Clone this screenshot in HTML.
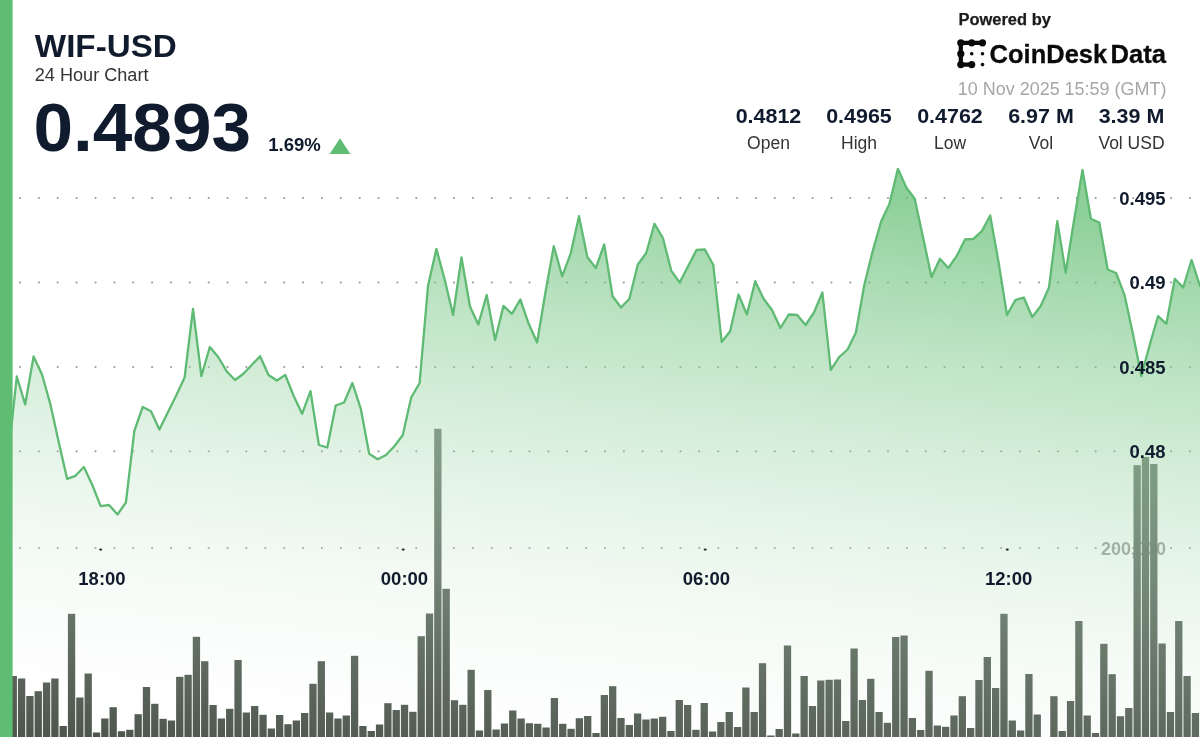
<!DOCTYPE html>
<html lang="en"><head><meta charset="utf-8"><title>WIF-USD 24 Hour Chart</title>
<style>
html,body{margin:0;padding:0;background:#fff;}
body{width:1200px;height:737px;overflow:hidden;}
svg{display:block;font-family:"Liberation Sans",sans-serif;}
.b{font-weight:700;}
</style></head><body>
<svg width="1200" height="737" viewBox="0 0 1200 737">
<defs>
<linearGradient id="ag" gradientUnits="userSpaceOnUse" x1="600" y1="165" x2="536.1" y2="803.6"><stop offset="0.0000" stop-color="#5cbb6d" stop-opacity="0.7000"/><stop offset="0.0833" stop-color="#6ac179" stop-opacity="0.6417"/><stop offset="0.1667" stop-color="#77c685" stop-opacity="0.5833"/><stop offset="0.2500" stop-color="#85cc92" stop-opacity="0.5250"/><stop offset="0.3333" stop-color="#92d29e" stop-opacity="0.4667"/><stop offset="0.4167" stop-color="#a0d7aa" stop-opacity="0.4083"/><stop offset="0.5000" stop-color="#aeddb6" stop-opacity="0.3500"/><stop offset="0.5833" stop-color="#bbe3c2" stop-opacity="0.2917"/><stop offset="0.6667" stop-color="#c9e8ce" stop-opacity="0.2333"/><stop offset="0.7500" stop-color="#d6eeda" stop-opacity="0.1750"/><stop offset="0.8333" stop-color="#e4f4e7" stop-opacity="0.1167"/><stop offset="0.9167" stop-color="#f1f9f3" stop-opacity="0.0583"/><stop offset="1.0000" stop-color="#ffffff" stop-opacity="0.0000"/></linearGradient><linearGradient id="bg" gradientUnits="userSpaceOnUse" x1="0" y1="430" x2="0" y2="737"><stop offset="0" stop-color="#6c776e"/><stop offset="0.717" stop-color="#4e584e"/><stop offset="1" stop-color="#495349"/></linearGradient>
</defs>
<rect width="1200" height="737" fill="#fff"/>
<g fill="#9b9b9b"><circle cx="20.0" cy="198" r="1.1"/><circle cx="38.9" cy="198" r="1.1"/><circle cx="57.7" cy="198" r="1.1"/><circle cx="76.6" cy="198" r="1.1"/><circle cx="95.5" cy="198" r="1.1"/><circle cx="114.4" cy="198" r="1.1"/><circle cx="133.2" cy="198" r="1.1"/><circle cx="152.1" cy="198" r="1.1"/><circle cx="171.0" cy="198" r="1.1"/><circle cx="189.8" cy="198" r="1.1"/><circle cx="208.7" cy="198" r="1.1"/><circle cx="227.6" cy="198" r="1.1"/><circle cx="246.4" cy="198" r="1.1"/><circle cx="265.3" cy="198" r="1.1"/><circle cx="284.2" cy="198" r="1.1"/><circle cx="303.1" cy="198" r="1.1"/><circle cx="321.9" cy="198" r="1.1"/><circle cx="340.8" cy="198" r="1.1"/><circle cx="359.7" cy="198" r="1.1"/><circle cx="378.5" cy="198" r="1.1"/><circle cx="397.4" cy="198" r="1.1"/><circle cx="416.3" cy="198" r="1.1"/><circle cx="435.1" cy="198" r="1.1"/><circle cx="454.0" cy="198" r="1.1"/><circle cx="472.9" cy="198" r="1.1"/><circle cx="491.8" cy="198" r="1.1"/><circle cx="510.6" cy="198" r="1.1"/><circle cx="529.5" cy="198" r="1.1"/><circle cx="548.4" cy="198" r="1.1"/><circle cx="567.2" cy="198" r="1.1"/><circle cx="586.1" cy="198" r="1.1"/><circle cx="605.0" cy="198" r="1.1"/><circle cx="623.8" cy="198" r="1.1"/><circle cx="642.7" cy="198" r="1.1"/><circle cx="661.6" cy="198" r="1.1"/><circle cx="680.5" cy="198" r="1.1"/><circle cx="699.3" cy="198" r="1.1"/><circle cx="718.2" cy="198" r="1.1"/><circle cx="737.1" cy="198" r="1.1"/><circle cx="755.9" cy="198" r="1.1"/><circle cx="774.8" cy="198" r="1.1"/><circle cx="793.7" cy="198" r="1.1"/><circle cx="812.5" cy="198" r="1.1"/><circle cx="831.4" cy="198" r="1.1"/><circle cx="850.3" cy="198" r="1.1"/><circle cx="869.2" cy="198" r="1.1"/><circle cx="888.0" cy="198" r="1.1"/><circle cx="906.9" cy="198" r="1.1"/><circle cx="925.8" cy="198" r="1.1"/><circle cx="944.6" cy="198" r="1.1"/><circle cx="963.5" cy="198" r="1.1"/><circle cx="982.4" cy="198" r="1.1"/><circle cx="1001.2" cy="198" r="1.1"/><circle cx="1020.1" cy="198" r="1.1"/><circle cx="1039.0" cy="198" r="1.1"/><circle cx="1057.9" cy="198" r="1.1"/><circle cx="1076.7" cy="198" r="1.1"/><circle cx="1095.6" cy="198" r="1.1"/><circle cx="1114.5" cy="198" r="1.1"/><circle cx="1133.3" cy="198" r="1.1"/><circle cx="1152.2" cy="198" r="1.1"/><circle cx="1171.1" cy="198" r="1.1"/><circle cx="1189.9" cy="198" r="1.1"/><circle cx="20.0" cy="282.5" r="1.1"/><circle cx="38.9" cy="282.5" r="1.1"/><circle cx="57.7" cy="282.5" r="1.1"/><circle cx="76.6" cy="282.5" r="1.1"/><circle cx="95.5" cy="282.5" r="1.1"/><circle cx="114.4" cy="282.5" r="1.1"/><circle cx="133.2" cy="282.5" r="1.1"/><circle cx="152.1" cy="282.5" r="1.1"/><circle cx="171.0" cy="282.5" r="1.1"/><circle cx="189.8" cy="282.5" r="1.1"/><circle cx="208.7" cy="282.5" r="1.1"/><circle cx="227.6" cy="282.5" r="1.1"/><circle cx="246.4" cy="282.5" r="1.1"/><circle cx="265.3" cy="282.5" r="1.1"/><circle cx="284.2" cy="282.5" r="1.1"/><circle cx="303.1" cy="282.5" r="1.1"/><circle cx="321.9" cy="282.5" r="1.1"/><circle cx="340.8" cy="282.5" r="1.1"/><circle cx="359.7" cy="282.5" r="1.1"/><circle cx="378.5" cy="282.5" r="1.1"/><circle cx="397.4" cy="282.5" r="1.1"/><circle cx="416.3" cy="282.5" r="1.1"/><circle cx="435.1" cy="282.5" r="1.1"/><circle cx="454.0" cy="282.5" r="1.1"/><circle cx="472.9" cy="282.5" r="1.1"/><circle cx="491.8" cy="282.5" r="1.1"/><circle cx="510.6" cy="282.5" r="1.1"/><circle cx="529.5" cy="282.5" r="1.1"/><circle cx="548.4" cy="282.5" r="1.1"/><circle cx="567.2" cy="282.5" r="1.1"/><circle cx="586.1" cy="282.5" r="1.1"/><circle cx="605.0" cy="282.5" r="1.1"/><circle cx="623.8" cy="282.5" r="1.1"/><circle cx="642.7" cy="282.5" r="1.1"/><circle cx="661.6" cy="282.5" r="1.1"/><circle cx="680.5" cy="282.5" r="1.1"/><circle cx="699.3" cy="282.5" r="1.1"/><circle cx="718.2" cy="282.5" r="1.1"/><circle cx="737.1" cy="282.5" r="1.1"/><circle cx="755.9" cy="282.5" r="1.1"/><circle cx="774.8" cy="282.5" r="1.1"/><circle cx="793.7" cy="282.5" r="1.1"/><circle cx="812.5" cy="282.5" r="1.1"/><circle cx="831.4" cy="282.5" r="1.1"/><circle cx="850.3" cy="282.5" r="1.1"/><circle cx="869.2" cy="282.5" r="1.1"/><circle cx="888.0" cy="282.5" r="1.1"/><circle cx="906.9" cy="282.5" r="1.1"/><circle cx="925.8" cy="282.5" r="1.1"/><circle cx="944.6" cy="282.5" r="1.1"/><circle cx="963.5" cy="282.5" r="1.1"/><circle cx="982.4" cy="282.5" r="1.1"/><circle cx="1001.2" cy="282.5" r="1.1"/><circle cx="1020.1" cy="282.5" r="1.1"/><circle cx="1039.0" cy="282.5" r="1.1"/><circle cx="1057.9" cy="282.5" r="1.1"/><circle cx="1076.7" cy="282.5" r="1.1"/><circle cx="1095.6" cy="282.5" r="1.1"/><circle cx="1114.5" cy="282.5" r="1.1"/><circle cx="1133.3" cy="282.5" r="1.1"/><circle cx="1152.2" cy="282.5" r="1.1"/><circle cx="1171.1" cy="282.5" r="1.1"/><circle cx="1189.9" cy="282.5" r="1.1"/><circle cx="20.0" cy="367" r="1.1"/><circle cx="38.9" cy="367" r="1.1"/><circle cx="57.7" cy="367" r="1.1"/><circle cx="76.6" cy="367" r="1.1"/><circle cx="95.5" cy="367" r="1.1"/><circle cx="114.4" cy="367" r="1.1"/><circle cx="133.2" cy="367" r="1.1"/><circle cx="152.1" cy="367" r="1.1"/><circle cx="171.0" cy="367" r="1.1"/><circle cx="189.8" cy="367" r="1.1"/><circle cx="208.7" cy="367" r="1.1"/><circle cx="227.6" cy="367" r="1.1"/><circle cx="246.4" cy="367" r="1.1"/><circle cx="265.3" cy="367" r="1.1"/><circle cx="284.2" cy="367" r="1.1"/><circle cx="303.1" cy="367" r="1.1"/><circle cx="321.9" cy="367" r="1.1"/><circle cx="340.8" cy="367" r="1.1"/><circle cx="359.7" cy="367" r="1.1"/><circle cx="378.5" cy="367" r="1.1"/><circle cx="397.4" cy="367" r="1.1"/><circle cx="416.3" cy="367" r="1.1"/><circle cx="435.1" cy="367" r="1.1"/><circle cx="454.0" cy="367" r="1.1"/><circle cx="472.9" cy="367" r="1.1"/><circle cx="491.8" cy="367" r="1.1"/><circle cx="510.6" cy="367" r="1.1"/><circle cx="529.5" cy="367" r="1.1"/><circle cx="548.4" cy="367" r="1.1"/><circle cx="567.2" cy="367" r="1.1"/><circle cx="586.1" cy="367" r="1.1"/><circle cx="605.0" cy="367" r="1.1"/><circle cx="623.8" cy="367" r="1.1"/><circle cx="642.7" cy="367" r="1.1"/><circle cx="661.6" cy="367" r="1.1"/><circle cx="680.5" cy="367" r="1.1"/><circle cx="699.3" cy="367" r="1.1"/><circle cx="718.2" cy="367" r="1.1"/><circle cx="737.1" cy="367" r="1.1"/><circle cx="755.9" cy="367" r="1.1"/><circle cx="774.8" cy="367" r="1.1"/><circle cx="793.7" cy="367" r="1.1"/><circle cx="812.5" cy="367" r="1.1"/><circle cx="831.4" cy="367" r="1.1"/><circle cx="850.3" cy="367" r="1.1"/><circle cx="869.2" cy="367" r="1.1"/><circle cx="888.0" cy="367" r="1.1"/><circle cx="906.9" cy="367" r="1.1"/><circle cx="925.8" cy="367" r="1.1"/><circle cx="944.6" cy="367" r="1.1"/><circle cx="963.5" cy="367" r="1.1"/><circle cx="982.4" cy="367" r="1.1"/><circle cx="1001.2" cy="367" r="1.1"/><circle cx="1020.1" cy="367" r="1.1"/><circle cx="1039.0" cy="367" r="1.1"/><circle cx="1057.9" cy="367" r="1.1"/><circle cx="1076.7" cy="367" r="1.1"/><circle cx="1095.6" cy="367" r="1.1"/><circle cx="1114.5" cy="367" r="1.1"/><circle cx="1133.3" cy="367" r="1.1"/><circle cx="1152.2" cy="367" r="1.1"/><circle cx="1171.1" cy="367" r="1.1"/><circle cx="1189.9" cy="367" r="1.1"/><circle cx="20.0" cy="451.3" r="1.1"/><circle cx="38.9" cy="451.3" r="1.1"/><circle cx="57.7" cy="451.3" r="1.1"/><circle cx="76.6" cy="451.3" r="1.1"/><circle cx="95.5" cy="451.3" r="1.1"/><circle cx="114.4" cy="451.3" r="1.1"/><circle cx="133.2" cy="451.3" r="1.1"/><circle cx="152.1" cy="451.3" r="1.1"/><circle cx="171.0" cy="451.3" r="1.1"/><circle cx="189.8" cy="451.3" r="1.1"/><circle cx="208.7" cy="451.3" r="1.1"/><circle cx="227.6" cy="451.3" r="1.1"/><circle cx="246.4" cy="451.3" r="1.1"/><circle cx="265.3" cy="451.3" r="1.1"/><circle cx="284.2" cy="451.3" r="1.1"/><circle cx="303.1" cy="451.3" r="1.1"/><circle cx="321.9" cy="451.3" r="1.1"/><circle cx="340.8" cy="451.3" r="1.1"/><circle cx="359.7" cy="451.3" r="1.1"/><circle cx="378.5" cy="451.3" r="1.1"/><circle cx="397.4" cy="451.3" r="1.1"/><circle cx="416.3" cy="451.3" r="1.1"/><circle cx="435.1" cy="451.3" r="1.1"/><circle cx="454.0" cy="451.3" r="1.1"/><circle cx="472.9" cy="451.3" r="1.1"/><circle cx="491.8" cy="451.3" r="1.1"/><circle cx="510.6" cy="451.3" r="1.1"/><circle cx="529.5" cy="451.3" r="1.1"/><circle cx="548.4" cy="451.3" r="1.1"/><circle cx="567.2" cy="451.3" r="1.1"/><circle cx="586.1" cy="451.3" r="1.1"/><circle cx="605.0" cy="451.3" r="1.1"/><circle cx="623.8" cy="451.3" r="1.1"/><circle cx="642.7" cy="451.3" r="1.1"/><circle cx="661.6" cy="451.3" r="1.1"/><circle cx="680.5" cy="451.3" r="1.1"/><circle cx="699.3" cy="451.3" r="1.1"/><circle cx="718.2" cy="451.3" r="1.1"/><circle cx="737.1" cy="451.3" r="1.1"/><circle cx="755.9" cy="451.3" r="1.1"/><circle cx="774.8" cy="451.3" r="1.1"/><circle cx="793.7" cy="451.3" r="1.1"/><circle cx="812.5" cy="451.3" r="1.1"/><circle cx="831.4" cy="451.3" r="1.1"/><circle cx="850.3" cy="451.3" r="1.1"/><circle cx="869.2" cy="451.3" r="1.1"/><circle cx="888.0" cy="451.3" r="1.1"/><circle cx="906.9" cy="451.3" r="1.1"/><circle cx="925.8" cy="451.3" r="1.1"/><circle cx="944.6" cy="451.3" r="1.1"/><circle cx="963.5" cy="451.3" r="1.1"/><circle cx="982.4" cy="451.3" r="1.1"/><circle cx="1001.2" cy="451.3" r="1.1"/><circle cx="1020.1" cy="451.3" r="1.1"/><circle cx="1039.0" cy="451.3" r="1.1"/><circle cx="1057.9" cy="451.3" r="1.1"/><circle cx="1076.7" cy="451.3" r="1.1"/><circle cx="1095.6" cy="451.3" r="1.1"/><circle cx="1114.5" cy="451.3" r="1.1"/><circle cx="1133.3" cy="451.3" r="1.1"/><circle cx="1152.2" cy="451.3" r="1.1"/><circle cx="1171.1" cy="451.3" r="1.1"/><circle cx="1189.9" cy="451.3" r="1.1"/><circle cx="20.0" cy="548" r="1.1"/><circle cx="38.9" cy="548" r="1.1"/><circle cx="57.7" cy="548" r="1.1"/><circle cx="76.6" cy="548" r="1.1"/><circle cx="95.5" cy="548" r="1.1"/><circle cx="114.4" cy="548" r="1.1"/><circle cx="133.2" cy="548" r="1.1"/><circle cx="152.1" cy="548" r="1.1"/><circle cx="171.0" cy="548" r="1.1"/><circle cx="189.8" cy="548" r="1.1"/><circle cx="208.7" cy="548" r="1.1"/><circle cx="227.6" cy="548" r="1.1"/><circle cx="246.4" cy="548" r="1.1"/><circle cx="265.3" cy="548" r="1.1"/><circle cx="284.2" cy="548" r="1.1"/><circle cx="303.1" cy="548" r="1.1"/><circle cx="321.9" cy="548" r="1.1"/><circle cx="340.8" cy="548" r="1.1"/><circle cx="359.7" cy="548" r="1.1"/><circle cx="378.5" cy="548" r="1.1"/><circle cx="397.4" cy="548" r="1.1"/><circle cx="416.3" cy="548" r="1.1"/><circle cx="435.1" cy="548" r="1.1"/><circle cx="454.0" cy="548" r="1.1"/><circle cx="472.9" cy="548" r="1.1"/><circle cx="491.8" cy="548" r="1.1"/><circle cx="510.6" cy="548" r="1.1"/><circle cx="529.5" cy="548" r="1.1"/><circle cx="548.4" cy="548" r="1.1"/><circle cx="567.2" cy="548" r="1.1"/><circle cx="586.1" cy="548" r="1.1"/><circle cx="605.0" cy="548" r="1.1"/><circle cx="623.8" cy="548" r="1.1"/><circle cx="642.7" cy="548" r="1.1"/><circle cx="661.6" cy="548" r="1.1"/><circle cx="680.5" cy="548" r="1.1"/><circle cx="699.3" cy="548" r="1.1"/><circle cx="718.2" cy="548" r="1.1"/><circle cx="737.1" cy="548" r="1.1"/><circle cx="755.9" cy="548" r="1.1"/><circle cx="774.8" cy="548" r="1.1"/><circle cx="793.7" cy="548" r="1.1"/><circle cx="812.5" cy="548" r="1.1"/><circle cx="831.4" cy="548" r="1.1"/><circle cx="850.3" cy="548" r="1.1"/><circle cx="869.2" cy="548" r="1.1"/><circle cx="888.0" cy="548" r="1.1"/><circle cx="906.9" cy="548" r="1.1"/><circle cx="925.8" cy="548" r="1.1"/><circle cx="944.6" cy="548" r="1.1"/><circle cx="963.5" cy="548" r="1.1"/><circle cx="982.4" cy="548" r="1.1"/><circle cx="1001.2" cy="548" r="1.1"/><circle cx="1020.1" cy="548" r="1.1"/><circle cx="1039.0" cy="548" r="1.1"/><circle cx="1057.9" cy="548" r="1.1"/><circle cx="1076.7" cy="548" r="1.1"/><circle cx="1095.6" cy="548" r="1.1"/><circle cx="1114.5" cy="548" r="1.1"/><circle cx="1133.3" cy="548" r="1.1"/><circle cx="1152.2" cy="548" r="1.1"/><circle cx="1171.1" cy="548" r="1.1"/><circle cx="1189.9" cy="548" r="1.1"/></g>
<text class="b" x="1166" y="554.6" font-size="18" text-anchor="end" fill="#9a9a9a">200,000</text>
<g fill="url(#bg)"><rect x="1.30" y="676.0" width="7.3" height="61.0"/><rect x="9.62" y="676.0" width="7.3" height="61.0"/><rect x="17.95" y="678.5" width="7.3" height="58.5"/><rect x="26.27" y="696.0" width="7.3" height="41.0"/><rect x="34.60" y="691.2" width="7.3" height="45.8"/><rect x="42.93" y="682.5" width="7.3" height="54.5"/><rect x="51.25" y="678.5" width="7.3" height="58.5"/><rect x="59.57" y="726.0" width="7.3" height="11.0"/><rect x="67.90" y="613.8" width="7.3" height="123.2"/><rect x="76.22" y="697.5" width="7.3" height="39.5"/><rect x="84.55" y="673.5" width="7.3" height="63.5"/><rect x="92.87" y="732.5" width="7.3" height="4.5"/><rect x="101.20" y="718.5" width="7.3" height="18.5"/><rect x="109.52" y="707.2" width="7.3" height="29.8"/><rect x="117.85" y="731.2" width="7.3" height="5.8"/><rect x="126.17" y="729.8" width="7.3" height="7.2"/><rect x="134.50" y="714.2" width="7.3" height="22.8"/><rect x="142.82" y="687.0" width="7.3" height="50.0"/><rect x="151.15" y="703.8" width="7.3" height="33.2"/><rect x="159.47" y="718.8" width="7.3" height="18.2"/><rect x="167.80" y="720.5" width="7.3" height="16.5"/><rect x="176.12" y="676.8" width="7.3" height="60.2"/><rect x="184.45" y="674.8" width="7.3" height="62.2"/><rect x="192.77" y="636.8" width="7.3" height="100.2"/><rect x="201.10" y="661.2" width="7.3" height="75.8"/><rect x="209.42" y="705.0" width="7.3" height="32.0"/><rect x="217.75" y="718.5" width="7.3" height="18.5"/><rect x="226.07" y="708.8" width="7.3" height="28.2"/><rect x="234.40" y="660.0" width="7.3" height="77.0"/><rect x="242.72" y="712.5" width="7.3" height="24.5"/><rect x="251.05" y="706.0" width="7.3" height="31.0"/><rect x="259.38" y="714.8" width="7.3" height="22.2"/><rect x="267.70" y="728.5" width="7.3" height="8.5"/><rect x="276.02" y="715.0" width="7.3" height="22.0"/><rect x="284.35" y="724.2" width="7.3" height="12.8"/><rect x="292.68" y="720.5" width="7.3" height="16.5"/><rect x="301.00" y="713.0" width="7.3" height="24.0"/><rect x="309.32" y="683.8" width="7.3" height="53.2"/><rect x="317.65" y="661.2" width="7.3" height="75.8"/><rect x="325.97" y="712.5" width="7.3" height="24.5"/><rect x="334.30" y="718.5" width="7.3" height="18.5"/><rect x="342.62" y="715.5" width="7.3" height="21.5"/><rect x="350.95" y="655.8" width="7.3" height="81.2"/><rect x="359.27" y="726.0" width="7.3" height="11.0"/><rect x="367.60" y="731.0" width="7.3" height="6.0"/><rect x="375.92" y="724.5" width="7.3" height="12.5"/><rect x="384.25" y="703.2" width="7.3" height="33.8"/><rect x="392.57" y="710.0" width="7.3" height="27.0"/><rect x="400.90" y="704.8" width="7.3" height="32.2"/><rect x="409.22" y="711.8" width="7.3" height="25.2"/><rect x="417.55" y="636.2" width="7.3" height="100.8"/><rect x="425.88" y="613.5" width="7.3" height="123.5"/><rect x="434.20" y="428.8" width="7.3" height="308.2"/><rect x="442.52" y="588.8" width="7.3" height="148.2"/><rect x="450.85" y="700.2" width="7.3" height="36.8"/><rect x="459.17" y="704.8" width="7.3" height="32.2"/><rect x="467.50" y="669.8" width="7.3" height="67.2"/><rect x="475.82" y="730.5" width="7.3" height="6.5"/><rect x="484.15" y="690.0" width="7.3" height="47.0"/><rect x="492.47" y="729.5" width="7.3" height="7.5"/><rect x="500.80" y="723.5" width="7.3" height="13.5"/><rect x="509.12" y="710.5" width="7.3" height="26.5"/><rect x="517.45" y="718.5" width="7.3" height="18.5"/><rect x="525.77" y="723.2" width="7.3" height="13.8"/><rect x="534.10" y="723.8" width="7.3" height="13.2"/><rect x="542.43" y="727.5" width="7.3" height="9.5"/><rect x="550.75" y="698.0" width="7.3" height="39.0"/><rect x="559.08" y="723.8" width="7.3" height="13.2"/><rect x="567.40" y="728.8" width="7.3" height="8.2"/><rect x="575.73" y="718.2" width="7.3" height="18.8"/><rect x="584.05" y="716.0" width="7.3" height="21.0"/><rect x="592.38" y="733.0" width="7.3" height="4.0"/><rect x="600.70" y="695.0" width="7.3" height="42.0"/><rect x="609.02" y="686.2" width="7.3" height="50.8"/><rect x="617.35" y="718.0" width="7.3" height="19.0"/><rect x="625.68" y="725.0" width="7.3" height="12.0"/><rect x="634.00" y="713.5" width="7.3" height="23.5"/><rect x="642.33" y="719.5" width="7.3" height="17.5"/><rect x="650.65" y="718.5" width="7.3" height="18.5"/><rect x="658.98" y="716.8" width="7.3" height="20.2"/><rect x="667.30" y="731.0" width="7.3" height="6.0"/><rect x="675.62" y="700.0" width="7.3" height="37.0"/><rect x="683.95" y="705.0" width="7.3" height="32.0"/><rect x="692.27" y="729.8" width="7.3" height="7.2"/><rect x="700.60" y="703.0" width="7.3" height="34.0"/><rect x="708.92" y="731.5" width="7.3" height="5.5"/><rect x="717.25" y="722.0" width="7.3" height="15.0"/><rect x="725.58" y="712.0" width="7.3" height="25.0"/><rect x="733.90" y="727.0" width="7.3" height="10.0"/><rect x="742.23" y="687.5" width="7.3" height="49.5"/><rect x="750.55" y="712.0" width="7.3" height="25.0"/><rect x="758.88" y="663.2" width="7.3" height="73.8"/><rect x="767.20" y="735.5" width="7.3" height="1.5"/><rect x="775.52" y="729.0" width="7.3" height="8.0"/><rect x="783.85" y="645.5" width="7.3" height="91.5"/><rect x="792.17" y="733.5" width="7.3" height="3.5"/><rect x="800.50" y="676.0" width="7.3" height="61.0"/><rect x="808.83" y="706.0" width="7.3" height="31.0"/><rect x="817.15" y="680.5" width="7.3" height="56.5"/><rect x="825.48" y="679.8" width="7.3" height="57.2"/><rect x="833.80" y="679.5" width="7.3" height="57.5"/><rect x="842.12" y="721.0" width="7.3" height="16.0"/><rect x="850.45" y="648.5" width="7.3" height="88.5"/><rect x="858.77" y="700.0" width="7.3" height="37.0"/><rect x="867.10" y="678.8" width="7.3" height="58.2"/><rect x="875.42" y="712.0" width="7.3" height="25.0"/><rect x="883.75" y="722.8" width="7.3" height="14.2"/><rect x="892.08" y="637.0" width="7.3" height="100.0"/><rect x="900.40" y="635.5" width="7.3" height="101.5"/><rect x="908.73" y="718.0" width="7.3" height="19.0"/><rect x="917.05" y="730.0" width="7.3" height="7.0"/><rect x="925.38" y="670.8" width="7.3" height="66.2"/><rect x="933.70" y="725.5" width="7.3" height="11.5"/><rect x="942.02" y="726.8" width="7.3" height="10.2"/><rect x="950.35" y="715.5" width="7.3" height="21.5"/><rect x="958.67" y="696.2" width="7.3" height="40.8"/><rect x="967.00" y="728.0" width="7.3" height="9.0"/><rect x="975.32" y="680.0" width="7.3" height="57.0"/><rect x="983.65" y="657.0" width="7.3" height="80.0"/><rect x="991.98" y="688.0" width="7.3" height="49.0"/><rect x="1000.30" y="613.8" width="7.3" height="123.2"/><rect x="1008.62" y="720.5" width="7.3" height="16.5"/><rect x="1016.95" y="730.5" width="7.3" height="6.5"/><rect x="1025.27" y="674.0" width="7.3" height="63.0"/><rect x="1033.60" y="714.5" width="7.3" height="22.5"/><rect x="1050.25" y="696.2" width="7.3" height="40.8"/><rect x="1058.57" y="731.0" width="7.3" height="6.0"/><rect x="1066.90" y="701.0" width="7.3" height="36.0"/><rect x="1075.22" y="621.0" width="7.3" height="116.0"/><rect x="1083.55" y="715.5" width="7.3" height="21.5"/><rect x="1091.87" y="733.0" width="7.3" height="4.0"/><rect x="1100.20" y="643.8" width="7.3" height="93.2"/><rect x="1108.52" y="674.2" width="7.3" height="62.8"/><rect x="1116.85" y="716.2" width="7.3" height="20.8"/><rect x="1125.17" y="708.0" width="7.3" height="29.0"/><rect x="1133.50" y="465.2" width="7.3" height="271.8"/><rect x="1141.82" y="457.0" width="7.3" height="280.0"/><rect x="1150.15" y="464.0" width="7.3" height="273.0"/><rect x="1158.47" y="643.5" width="7.3" height="93.5"/><rect x="1166.80" y="712.0" width="7.3" height="25.0"/><rect x="1175.12" y="621.0" width="7.3" height="116.0"/><rect x="1183.45" y="676.0" width="7.3" height="61.0"/><rect x="1191.77" y="713.0" width="7.3" height="24.0"/></g>
<path d="M0.0,431.0 L8.4,455.0 L16.8,376.5 L25.2,404.5 L33.6,356.5 L42.0,374.5 L50.3,404.0 L58.7,442.0 L67.1,478.8 L75.5,475.8 L83.9,467.0 L92.3,485.0 L100.7,506.2 L109.1,505.0 L117.5,514.5 L125.9,502.5 L134.3,431.2 L142.7,407.0 L151.0,411.2 L159.4,429.5 L167.8,412.5 L176.2,395.5 L184.6,377.5 L193.0,308.8 L201.4,376.2 L209.8,347.0 L218.2,357.0 L226.6,371.2 L235.0,380.0 L243.4,373.8 L251.7,365.0 L260.1,356.2 L268.5,375.0 L276.9,380.5 L285.3,375.0 L293.7,396.0 L302.1,413.8 L310.5,391.2 L318.9,445.0 L327.3,447.5 L335.7,405.5 L344.1,402.5 L352.4,383.0 L360.8,408.8 L369.2,453.8 L377.6,459.2 L386.0,455.0 L394.4,446.2 L402.8,435.0 L411.2,397.5 L419.6,383.0 L428.0,286.0 L436.4,248.8 L444.8,280.0 L453.1,315.0 L461.5,257.5 L469.9,306.2 L478.3,324.5 L486.7,295.0 L495.1,340.0 L503.5,305.8 L511.9,313.8 L520.3,299.5 L528.7,323.8 L537.1,342.5 L545.5,292.0 L553.8,246.2 L562.2,276.2 L570.6,253.8 L579.0,216.2 L587.4,257.2 L595.8,268.0 L604.2,244.5 L612.6,296.2 L621.0,307.5 L629.4,298.8 L637.8,264.5 L646.2,253.0 L654.5,223.8 L662.9,238.0 L671.3,270.8 L679.7,282.5 L688.1,266.2 L696.5,250.0 L704.9,249.5 L713.3,265.0 L721.7,342.0 L730.1,331.2 L738.5,294.5 L746.9,314.5 L755.2,281.2 L763.6,298.8 L772.0,310.0 L780.4,328.0 L788.8,314.5 L797.2,315.0 L805.6,325.0 L814.0,312.5 L822.4,292.5 L830.8,370.0 L839.2,357.0 L847.6,349.5 L855.9,332.5 L864.3,285.0 L872.7,251.0 L881.1,221.5 L889.5,203.8 L897.9,168.8 L906.3,187.5 L914.7,198.8 L923.1,237.5 L931.5,277.0 L939.9,258.8 L948.3,268.0 L956.6,256.2 L965.0,239.5 L973.4,238.8 L981.8,231.2 L990.2,215.5 L998.6,262.5 L1007.0,315.0 L1015.4,300.0 L1023.8,297.5 L1032.2,317.0 L1040.6,306.2 L1049.0,287.5 L1057.3,221.2 L1065.7,272.5 L1074.1,220.0 L1082.5,170.0 L1090.9,218.8 L1099.3,222.5 L1107.7,269.5 L1116.1,273.0 L1124.5,295.0 L1132.9,333.8 L1141.3,376.0 L1149.7,345.0 L1158.0,316.2 L1166.4,323.8 L1174.8,278.8 L1183.2,287.5 L1191.6,260.0 L1200.0,286.0 L1200,737 L0,737 Z" fill="url(#ag)"/>
<path d="M0.0,431.0 L8.4,455.0 L16.8,376.5 L25.2,404.5 L33.6,356.5 L42.0,374.5 L50.3,404.0 L58.7,442.0 L67.1,478.8 L75.5,475.8 L83.9,467.0 L92.3,485.0 L100.7,506.2 L109.1,505.0 L117.5,514.5 L125.9,502.5 L134.3,431.2 L142.7,407.0 L151.0,411.2 L159.4,429.5 L167.8,412.5 L176.2,395.5 L184.6,377.5 L193.0,308.8 L201.4,376.2 L209.8,347.0 L218.2,357.0 L226.6,371.2 L235.0,380.0 L243.4,373.8 L251.7,365.0 L260.1,356.2 L268.5,375.0 L276.9,380.5 L285.3,375.0 L293.7,396.0 L302.1,413.8 L310.5,391.2 L318.9,445.0 L327.3,447.5 L335.7,405.5 L344.1,402.5 L352.4,383.0 L360.8,408.8 L369.2,453.8 L377.6,459.2 L386.0,455.0 L394.4,446.2 L402.8,435.0 L411.2,397.5 L419.6,383.0 L428.0,286.0 L436.4,248.8 L444.8,280.0 L453.1,315.0 L461.5,257.5 L469.9,306.2 L478.3,324.5 L486.7,295.0 L495.1,340.0 L503.5,305.8 L511.9,313.8 L520.3,299.5 L528.7,323.8 L537.1,342.5 L545.5,292.0 L553.8,246.2 L562.2,276.2 L570.6,253.8 L579.0,216.2 L587.4,257.2 L595.8,268.0 L604.2,244.5 L612.6,296.2 L621.0,307.5 L629.4,298.8 L637.8,264.5 L646.2,253.0 L654.5,223.8 L662.9,238.0 L671.3,270.8 L679.7,282.5 L688.1,266.2 L696.5,250.0 L704.9,249.5 L713.3,265.0 L721.7,342.0 L730.1,331.2 L738.5,294.5 L746.9,314.5 L755.2,281.2 L763.6,298.8 L772.0,310.0 L780.4,328.0 L788.8,314.5 L797.2,315.0 L805.6,325.0 L814.0,312.5 L822.4,292.5 L830.8,370.0 L839.2,357.0 L847.6,349.5 L855.9,332.5 L864.3,285.0 L872.7,251.0 L881.1,221.5 L889.5,203.8 L897.9,168.8 L906.3,187.5 L914.7,198.8 L923.1,237.5 L931.5,277.0 L939.9,258.8 L948.3,268.0 L956.6,256.2 L965.0,239.5 L973.4,238.8 L981.8,231.2 L990.2,215.5 L998.6,262.5 L1007.0,315.0 L1015.4,300.0 L1023.8,297.5 L1032.2,317.0 L1040.6,306.2 L1049.0,287.5 L1057.3,221.2 L1065.7,272.5 L1074.1,220.0 L1082.5,170.0 L1090.9,218.8 L1099.3,222.5 L1107.7,269.5 L1116.1,273.0 L1124.5,295.0 L1132.9,333.8 L1141.3,376.0 L1149.7,345.0 L1158.0,316.2 L1166.4,323.8 L1174.8,278.8 L1183.2,287.5 L1191.6,260.0 L1200.0,286.0" fill="none" stroke="#5fba74" stroke-width="2.3" stroke-linejoin="round" stroke-linecap="round"/>
<ellipse cx="100.7" cy="549.6" rx="1.6" ry="1.1" fill="#2a2a2a"/><ellipse cx="403.2" cy="549.6" rx="1.6" ry="1.1" fill="#2a2a2a"/><ellipse cx="705.2" cy="549.6" rx="1.6" ry="1.1" fill="#2a2a2a"/><ellipse cx="1007.3" cy="549.6" rx="1.6" ry="1.1" fill="#2a2a2a"/>
<text class="b" x="1165.6" y="204.7" font-size="18.5" text-anchor="end" fill="#111b2e">0.495</text><text class="b" x="1165.6" y="289.2" font-size="18.5" text-anchor="end" fill="#111b2e">0.49</text><text class="b" x="1165.6" y="373.7" font-size="18.5" text-anchor="end" fill="#111b2e">0.485</text><text class="b" x="1165.6" y="458.0" font-size="18.5" text-anchor="end" fill="#111b2e">0.48</text>
<text class="b" x="102.0" y="584.6" font-size="18.5" text-anchor="middle" fill="#111b2e">18:00</text><text class="b" x="404.5" y="584.6" font-size="18.5" text-anchor="middle" fill="#111b2e">00:00</text><text class="b" x="706.5" y="584.6" font-size="18.5" text-anchor="middle" fill="#111b2e">06:00</text><text class="b" x="1008.5999999999999" y="584.6" font-size="18.5" text-anchor="middle" fill="#111b2e">12:00</text>
<rect x="0" y="0" width="12.6" height="737" fill="#5fbd73"/>
<text class="b" x="34.8" y="57.3" font-size="31.5" textLength="142" lengthAdjust="spacingAndGlyphs" fill="#111b2e">WIF-USD</text>
<text x="34.8" y="80.8" font-size="17.5" textLength="113.7" lengthAdjust="spacingAndGlyphs" fill="#333">24 Hour Chart</text>
<text class="b" x="33.5" y="151.3" font-size="69" textLength="217.5" lengthAdjust="spacingAndGlyphs" fill="#111b2e">0.4893</text>
<text class="b" x="268.2" y="151.1" font-size="18.8" textLength="52.6" lengthAdjust="spacingAndGlyphs" fill="#111b2e">1.69%</text>
<path d="M340,138.2 L350.4,154 L329.6,154 Z" fill="#5fbd73"/>
<text class="b" x="958.4" y="25" font-size="16.8" textLength="92.5" lengthAdjust="spacingAndGlyphs" fill="#1a1a1a" stroke="#1a1a1a" stroke-width="0.25">Powered by</text>
<g fill="#0a0a0a" stroke="#0a0a0a"><path d="M982.5,42.8 L960.8,42.8 L960.8,64.6 L971.7,64.6" fill="none" stroke-width="4.2" stroke-linecap="round" stroke-linejoin="round"/><circle cx="960.8" cy="42.8" r="3.6" stroke="none"/><circle cx="971.7" cy="42.8" r="3.6" stroke="none"/><circle cx="982.5" cy="42.8" r="3.6" stroke="none"/><circle cx="960.8" cy="53.8" r="3.6" stroke="none"/><circle cx="960.8" cy="64.6" r="3.6" stroke="none"/><circle cx="971.7" cy="64.6" r="3.6" stroke="none"/><circle cx="971.7" cy="53.8" r="1.8" stroke="none"/><circle cx="982.5" cy="53.8" r="1.8" stroke="none"/><circle cx="982.5" cy="64.6" r="1.8" stroke="none"/></g>
<text class="b" x="989.6" y="62.6" font-size="26.6" textLength="117.6" stroke="#0a0a0a" stroke-width="0.3" lengthAdjust="spacingAndGlyphs" fill="#0a0a0a">CoinDesk</text>
<text class="b" x="1110.4" y="62.6" font-size="26.6" textLength="55.6" stroke="#0a0a0a" stroke-width="0.3" lengthAdjust="spacingAndGlyphs" fill="#0a0a0a">Data</text>
<text x="957.8" y="94.9" font-size="18.5" textLength="208.6" lengthAdjust="spacingAndGlyphs" fill="#a6a6a6">10 Nov 2025 15:59 (GMT)</text>
<text class="b" x="735.7" y="123.3" font-size="20.3" textLength="65.6" lengthAdjust="spacingAndGlyphs" fill="#111b2e">0.4812</text><text x="768.5" y="149.3" font-size="17.5" text-anchor="middle" fill="#333">Open</text>
<text class="b" x="826.2" y="123.3" font-size="20.3" textLength="65.6" lengthAdjust="spacingAndGlyphs" fill="#111b2e">0.4965</text><text x="859" y="149.3" font-size="17.5" text-anchor="middle" fill="#333">High</text>
<text class="b" x="917.2" y="123.3" font-size="20.3" textLength="65.6" lengthAdjust="spacingAndGlyphs" fill="#111b2e">0.4762</text><text x="950" y="149.3" font-size="17.5" text-anchor="middle" fill="#333">Low</text>
<text class="b" x="1008.2" y="123.3" font-size="20.3" textLength="65.6" lengthAdjust="spacingAndGlyphs" fill="#111b2e">6.97 M</text><text x="1041" y="149.3" font-size="17.5" text-anchor="middle" fill="#333">Vol</text>
<text class="b" x="1098.7" y="123.3" font-size="20.3" textLength="65.6" lengthAdjust="spacingAndGlyphs" fill="#111b2e">3.39 M</text><text x="1131.5" y="149.3" font-size="17.5" text-anchor="middle" fill="#333">Vol USD</text>
</svg>
</body></html>
